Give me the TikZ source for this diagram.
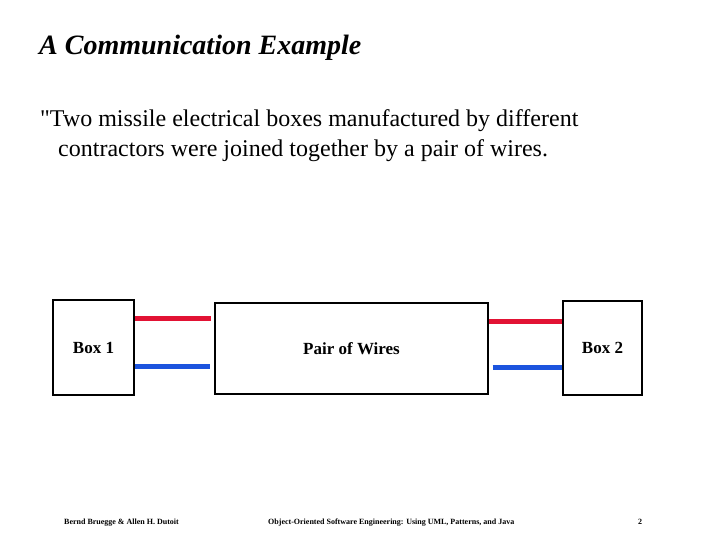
\documentclass[tikz,border=0pt]{standalone}
\usepackage{fontspec}
\setmainfont{Liberation Serif}
\usepackage{tikz}
\usetikzlibrary{positioning}
\definecolor{wireRed}{RGB}{226,18,52}
\definecolor{wireBlue}{RGB}{28,84,222}
\newcommand\wireW{5pt}
\newcommand\straightquote{{\addfontfeatures{Ligatures=TeXOff}\symbol{34}}}
\tikzset{
    box/.style={draw, line width=1.4pt, inner sep=0pt, font=\fontsize{17}{20}\selectfont\bfseries},
    redwire/.style={draw=wireRed, line width=\wireW},
    bluewire/.style={draw=wireBlue, line width=\wireW},
    footer/.style={font=\fontsize{8}{9}\selectfont\bfseries, anchor=base west}
}

\begin{document}
\begin{tikzpicture}[x=1pt, y=1pt]
        \useasboundingbox (0,0) rectangle (720,540);

        % heading and quote
        \node[anchor=base west, inner sep=0pt, font=\fontsize{28}{30}\selectfont\bfseries\itshape] (title) at (39,485) {A Communication Example};
        \node[anchor=base west, inner sep=0pt, font=\fontsize{24}{30}\selectfont] (quote1) at (40,413) {\straightquote Two missile electrical boxes manufactured by different};
        \node[anchor=base west, inner sep=0pt, font=\fontsize{24}{30}\selectfont] (quote2) at (58,383) {contractors were joined together by a pair of wires.};

        % the three boxes
        \node[box, minimum width=81pt, minimum height=95pt] (box1) at (93.5,192.5) {Box 1};
        \node[box, minimum width=273pt, minimum height=91pt] (wires) at (351.5,191.5) {Pair of Wires};
        \node[box, minimum width=79pt, minimum height=94pt] (box2) at (602.5,192) {Box 2};

        % wires
        \draw[redwire] ([yshift=28.5pt]box1.east) -- ([xshift=-3pt, yshift=29.5pt]wires.west);
        \draw[bluewire] ([yshift=-19.5pt]box1.east) -- ([xshift=-4pt, yshift=-18.5pt]wires.west);
        \draw[redwire] ([yshift=26.5pt]wires.east) -- ([yshift=26pt]box2.west);
        \draw[bluewire] ([xshift=4pt, yshift=-19.5pt]wires.east) -- ([yshift=-20pt]box2.west);

        % footer
        \node[footer, inner sep=0pt] (authors) at (64,15) {Bernd Bruegge \& Allen H. Dutoit};
        \node[footer, inner sep=0pt] (book) at (268,15) {Object-Oriented Software Engineering: Using UML, Patterns, and Java};
        \node[footer, inner sep=0pt] (page) at (638,15) {2};
    \end{tikzpicture}
\end{document}
